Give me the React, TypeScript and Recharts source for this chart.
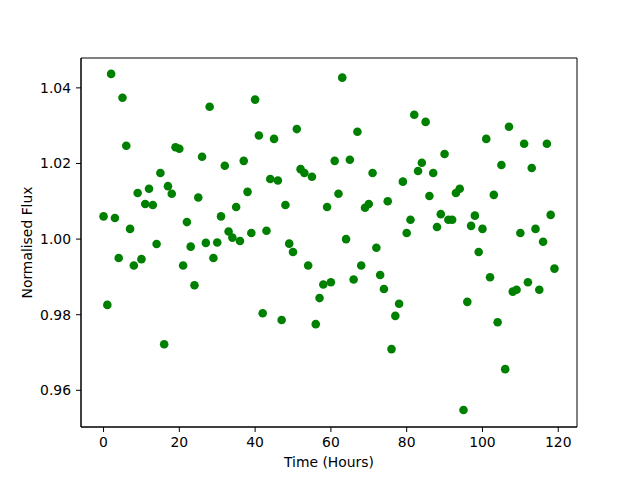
import React from 'react';
import { ScatterChart, Scatter, XAxis, YAxis, ReferenceArea } from 'recharts';

const hours: number[] = Array.from({ length: 120 }, (_, i) => i);

const flux: number[] = [
  1.006, 0.9826, 1.0437, 1.0056, 0.995, 1.0374, 1.0247, 1.0027, 0.993, 1.0122,
  0.9947, 1.0093, 1.0133, 1.009, 0.9987, 1.0175, 0.9722, 1.014, 1.012, 1.0243,
  1.0239, 0.993, 1.0045, 0.998, 0.9878, 1.011, 1.0218, 0.999, 1.035, 0.995,
  0.9991, 1.006, 1.0194, 1.002, 1.0004, 1.0085, 0.9995, 1.0207, 1.0125, 1.0016,
  1.0369, 1.0274, 0.9804, 1.0022, 1.0159, 1.0265, 1.0155, 0.9786, 1.009, 0.9988,
  0.9966, 1.0291, 1.0185, 1.0175, 0.993, 1.0165, 0.9775, 0.9844, 0.988, 1.0085,
  0.9886, 1.0207, 1.012, 1.0427, 1.0, 1.021, 0.9893, 1.0284, 0.993, 1.0083,
  1.0093, 1.0175, 0.9977, 0.9905, 0.9868, 1.01, 0.9709, 0.9797, 0.9829, 1.0152,
  1.0016, 1.0051, 1.0329, 1.018, 1.0202, 1.031, 1.0114, 1.0175, 1.0032, 1.0066,
  1.0225, 1.0051, 1.0051, 1.0122, 1.0133, 0.9548, 0.9834, 1.0035, 1.0062, 0.9966,
  1.0027, 1.0265, 0.9899, 1.0117, 0.978, 1.0196, 0.9656, 1.0297, 0.9861, 0.9866,
  1.0016, 1.0252, 0.9886, 1.0188, 1.0027, 0.9866, 0.9993, 1.0252, 1.0064, 0.9922,
];

const xTicks: number[] = [0, 20, 40, 60, 80, 100, 120];
const yTicks: number[] = [0.96, 0.98, 1.0, 1.02, 1.04];

const data = hours.map((h, i) => ({ x: h, y: flux[i] }));

const X_DOMAIN: [number, number] = [-5.95, 124.95];
const Y_DOMAIN: [number, number] = [0.9503, 1.0479];

const font = { fontFamily: 'DejaVu Sans', fontSize: 13.9, fill: '#000' };

export default function App() {
  return (
    <div style={{ position: 'absolute', left: 0, top: 0, width: 640, height: 480, background: '#fff' }}>
      <ScatterChart width={640} height={480} margin={{ top: 58, right: 63, bottom: 0, left: 0 }}>
        <XAxis
          type="number"
          dataKey="x"
          domain={X_DOMAIN}
          ticks={xTicks}
          allowDataOverflow
          height={53}
          tickSize={5}
          tickMargin={5}
          stroke="#000"
          tick={font}
          tickLine={{ stroke: '#000' }}
          axisLine={{ stroke: '#000' }}
          label={{ value: 'Time (Hours)', position: 'insideBottom', offset: 13, style: { ...font } }}
        />
        <YAxis
          type="number"
          dataKey="y"
          domain={Y_DOMAIN}
          ticks={yTicks}
          allowDataOverflow
          width={81}
          tickSize={5}
          tickMargin={5}
          stroke="#000"
          tick={font}
          tickLine={{ stroke: '#000' }}
          axisLine={{ stroke: '#000' }}
          tickFormatter={(v: number) => v.toFixed(2)}
          label={{ value: 'Normalised Flux', angle: -90, position: 'insideLeft', offset: 27, style: { ...font, textAnchor: 'middle' } }}
        />
        <ReferenceArea
          x1={X_DOMAIN[0]}
          x2={X_DOMAIN[1]}
          y1={Y_DOMAIN[0]}
          y2={Y_DOMAIN[1]}
          fill="none"
          fillOpacity={0}
          stroke="#000"
          strokeWidth={1}
          ifOverflow="visible"
        />
        <Scatter
          data={data}
          isAnimationActive={false}
          fill="#008000"
          shape={(p: any) => <circle cx={p.cx} cy={p.cy} r={4.3} fill="#008000" />}
        />
      </ScatterChart>
    </div>
  );
}
